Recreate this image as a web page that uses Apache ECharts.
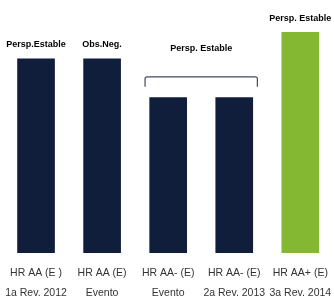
<!DOCTYPE html>
<html>
<head>
<meta charset="utf-8">
<script src="https://cdn.jsdelivr.net/npm/echarts@6/dist/echarts.min.js"></script>
<style>
  html, body { margin: 0; padding: 0; background: #fff; }
  #chart { width: 334px; height: 303px; }
</style>
</head>
<body>
<div id="chart"></div>
<script>
const ratings = ['HR AA (E )', 'HR AA (E)', 'HR AA- (E)', 'HR AA- (E)', 'HR AA+ (E)']
const reviews = ['1a Rev. 2012', 'Evento', 'Evento', '2a Rev. 2013', '3a Rev. 2014']
const levels = [100, 100, 80, 80, 113.5]
const outlooks = ['Persp.Estable', 'Obs.Neg.', '', '', 'Persp. Estable']
const barColors = ['#101e3c', '#101e3c', '#101e3c', '#101e3c', '#84b832']
// bracket over bars 3-4: [from index, to index, level]
const bracket = [[2, 3, 90.5]]
const bracketText = 'Persp. Estable'

const chart = echarts.init(document.getElementById('chart'))

chart.setOption({
  animation: false,
  grid: { left: 3, right: -1, top: 0, bottom: 43 },
  xAxis: {
    type: 'category',
    data: ratings.map((r, i) => r + '\n' + reviews[i]),
    axisLine: { show: false },
    axisTick: { show: false },
    axisLabel: {
      interval: 0,
      margin: 10,
      color: '#333',
      fontFamily: 'Arial, Liberation Sans, sans-serif',
      fontSize: 10.5,
      lineHeight: 20,
    },
  },
  yAxis: { type: 'value', min: 0, max: 130, show: false },
  series: [
    {
      type: 'bar',
      barWidth: '57%',
      data: levels.map((v, i) => ({
        value: v,
        itemStyle: { color: barColors[i] },
        label: { show: outlooks[i] !== '', formatter: outlooks[i] },
      })),
      label: {
        position: 'top',
        distance: 9,
        color: '#000',
        fontWeight: 'bold',
        fontSize: 9,
        fontFamily: 'Arial, Liberation Sans, sans-serif',
      },
    },
    {
      type: 'custom',
      data: bracket,
      renderItem: (params, api) => {
        const a = api.coord([api.value(0), api.value(2)])
        const b = api.coord([api.value(1), api.value(2)])
        const half = api.size([1, 0])[0] / 2
        const x1 = a[0] - half * 0.7
        const x2 = b[0] + half * 0.7
        const y = a[1]
        const drop = 10
        return {
          type: 'group',
          children: [
            {
              type: 'path',
              shape: {
                pathData: `M${x1},${y + drop} L${x1},${y + 2} Q${x1},${y} ${x1 + 2},${y} L${x2 - 2},${y} Q${x2},${y} ${x2},${y + 2} L${x2},${y + drop}`,
              },
              style: { fill: null, stroke: '#3e4a68', lineWidth: 1.2 },
            },
            {
              type: 'text',
              style: {
                text: bracketText,
                x: (x1 + x2) / 2,
                y: y - 28,
                align: 'center',
                verticalAlign: 'middle',
                fill: '#000',
                font: 'bold 9px Arial, Liberation Sans, sans-serif',
              },
            },
          ],
        }
      },
    },
  ],
})
</script>
</body>
</html>
